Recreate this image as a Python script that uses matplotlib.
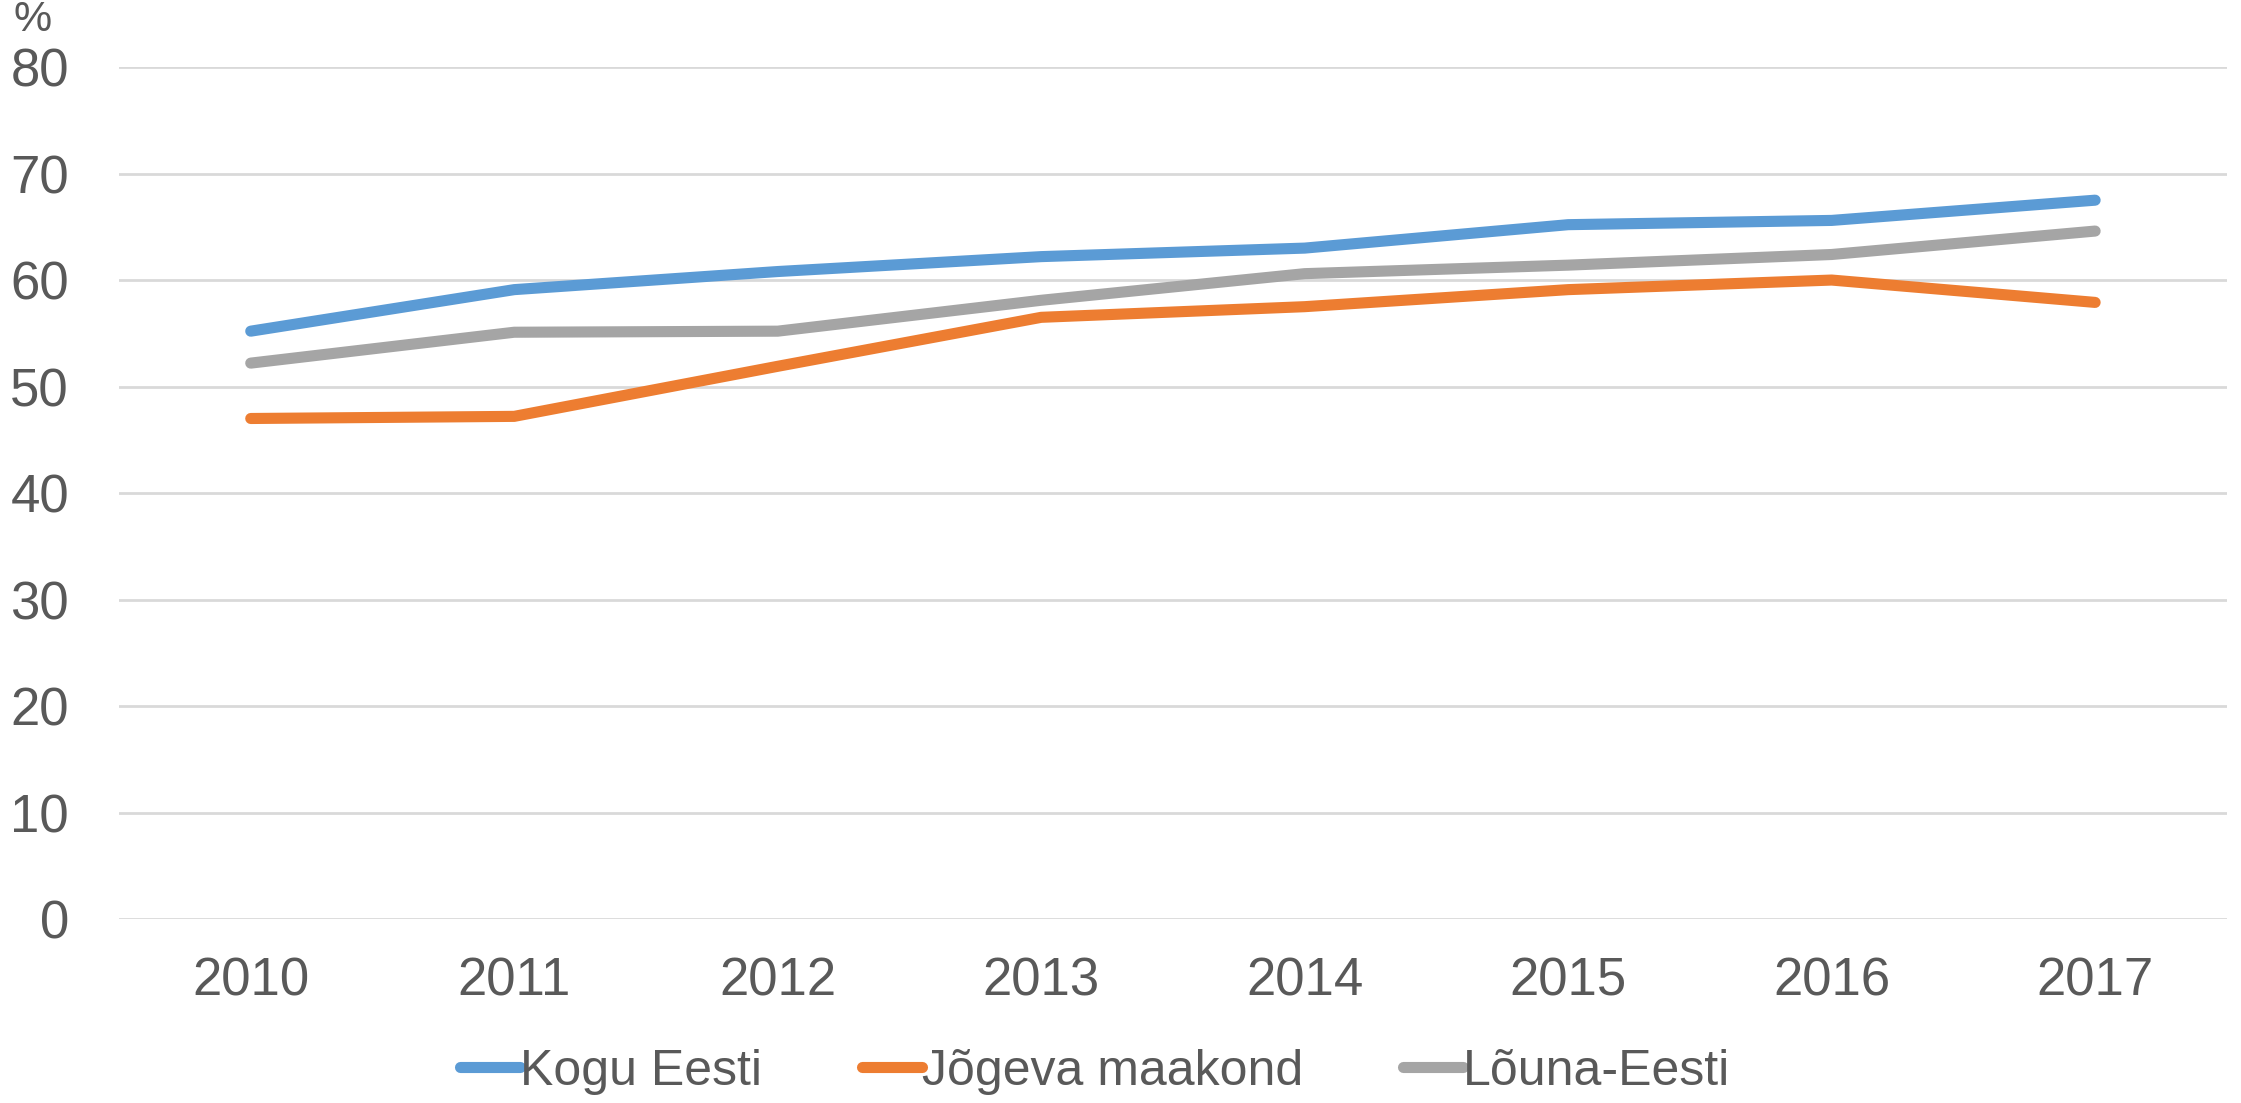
import matplotlib
matplotlib.use('Agg')
import matplotlib.pyplot as plt

# Data
years = ['2010', '2011', '2012', '2013', '2014', '2015', '2016', '2017']
kogu_eesti = [55.2, 59.1, 60.8, 62.2, 63.0, 65.2, 65.6, 67.5]
jogeva = [47.0, 47.2, 51.9, 56.5, 57.5, 59.1, 60.0, 57.9]
louna_eesti = [52.2, 55.1, 55.2, 58.1, 60.6, 61.4, 62.4, 64.6]
y_ticks = [0, 10, 20, 30, 40, 50, 60, 70, 80]

plt.rcParams['font.family'] = ['Liberation Sans', 'DejaVu Sans']
text_color = '#595959'

fig = plt.figure(figsize=(22.41, 11.03), dpi=100)
ax = fig.add_axes([0.0531, 0.1668, 0.9406, 0.7724])

x = range(len(years))
ax.plot(x, kogu_eesti, color='#5B9BD5', lw=8, solid_capstyle='round', label='Kogu Eesti')
ax.plot(x, jogeva, color='#ED7D31', lw=8, solid_capstyle='round', label='Jõgeva maakond')
ax.plot(x, louna_eesti, color='#A5A5A5', lw=8, solid_capstyle='round', label='Lõuna-Eesti')

ax.set_xlim(-0.5, len(years) - 0.5)
ax.set_ylim(0, 80)
ax.set_yticks(y_ticks)
ax.set_xticks(list(x))
ax.set_xticklabels(years)
ax.grid(axis='y', color='#D9D9D9', lw=2)
ax.set_axisbelow(True)
for s in ax.spines.values():
    s.set_visible(False)
ax.tick_params(length=0, labelsize=38, labelcolor=text_color)
ax.tick_params(axis='y', pad=36)
ax.tick_params(axis='x', pad=27)

# unit label above the y axis
fig.text(0.006, 1.0, '%', fontsize=31, color=text_color, va='top', ha='left')

fig.legend(loc='center', bbox_to_anchor=(0.4887, 0.0285), ncol=3, frameon=False,
           fontsize=36, labelcolor=text_color, handlelength=1.2,
           handletextpad=0.0, columnspacing=2.0)

plt.savefig('out.png', dpi=100)
